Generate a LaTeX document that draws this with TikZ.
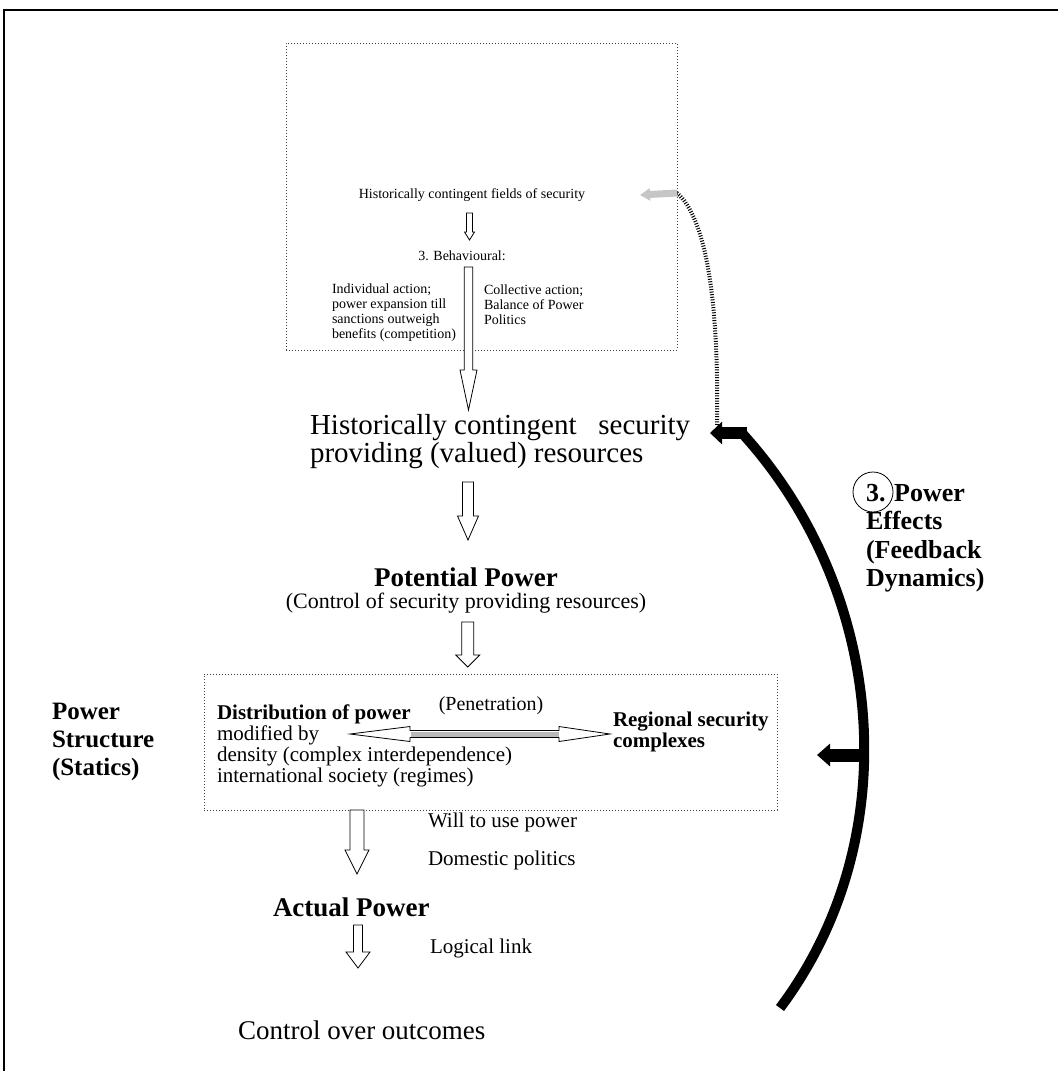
\documentclass[tikz,border=0pt]{standalone}
\usepackage{fontspec}
\setmainfont{Liberation Serif}
\usetikzlibrary{arrows.meta,calc}
\tikzset{
  every node/.style={inner sep=0pt, outer sep=0pt},
  fsmall/.style={font=\fontsize{14}{15}\selectfont},
  fmed/.style={font=\fontsize{21}{21}\selectfont},
  fbig/.style={font=\fontsize{29}{28}\selectfont},
  fhead/.style={font=\fontsize{27}{28}\selectfont\bfseries},
  fside/.style={font=\fontsize{25}{28}\selectfont\bfseries},
  dotbox/.style={draw=black!75, line width=0.7pt, dash pattern=on 0.7pt off 2.3pt},
  hollow/.style args={#1/#2/#3}{draw, line width=0.8pt, fill=white,
    to path={let \p1=(\tikztostart), \p2=(\tikztotarget) in
      (\x1-#1,\y1) -- (\x1-#1,\y2+#3) -- (\x1-#2,\y2+#3) -- (\x1,\y2) --
      (\x1+#2,\y2+#3) -- (\x1+#1,\y2+#3) -- (\x1+#1,\y1) -- cycle}},
  dblarrow/.style args={#1/#2/#3/#4}{draw, line width=0.8pt, fill=white,
    to path={let \p1=(\tikztostart), \p2=(\tikztotarget) in
      (\x1,\y1) -- (\x1+#3,\y1+#2) -- (\x1+#3,\y1+#1) -- (\x2-#4,\y1+#1) --
      (\x2-#4,\y1+#2) -- (\x2,\y1) -- (\x2-#4,\y1-#2) -- (\x2-#4,\y1-#1) --
      (\x1+#3,\y1-#1) -- (\x1+#3,\y1-#2) -- cycle}},
}
\begin{document}
\begin{tikzpicture}[x=1pt,y=-1pt]
\useasboundingbox (0,0) rectangle (1058,1071);
% frame
\draw[line width=2pt] (1058,10) -- (4,10) -- (4,1071);

% boxes
\node[dotbox, minimum width=391pt, minimum height=307pt] (topbox) at (481.5,196.5) {};
\node[dotbox, minimum width=573pt, minimum height=136pt] (pbox) at (490.5,742) {};

% texts
\node[fsmall] (fields) at (472,195) {Historically contingent fields of security};
\node[fsmall] (beh) at (462,256) {3. Behavioural:};
\node[fsmall, anchor=west, align=left] (indiv) at (332,312.5) {Individual action;\\power expansion till\\sanctions outweigh\\benefits (competition)};
\node[fsmall, anchor=west, align=left] (coll) at (484,305) {Collective action;\\Balance of Power\\Politics};
\node[fbig, anchor=west, align=left] (res) at (310,442) {Historically contingent\ \ \ security\\providing (valued) resources};
\node[fhead] (pot) at (466,577) {Potential Power};
\node[font=\fontsize{22}{24}\selectfont] (potsub) at (466,603) {(Control of security providing resources)};
\node[fside, anchor=west, align=left] (pstruct) at (52,742) {Power\\Structure\\(Statics)};
\node[fmed, anchor=west, align=left] (dist) at (217,746) {\textbf{Distribution of power}\\modified by\\density (complex interdependence)\\international society (regimes)};
\node[font=\fontsize{20}{22}\selectfont] (pen) at (491,706) {(Penetration)};
\node[font=\fontsize{21}{21}\selectfont\bfseries, anchor=west, align=left] (reg) at (613,732) {Regional security\\complexes};
\node[fmed, anchor=west] (will) at (428,822) {Will to use power};
\node[fmed, anchor=west] (dom) at (428,860) {Domestic politics};
\node[fhead, anchor=west] (act) at (273,907) {Actual Power};
\node[fmed, anchor=west] (logic) at (430,948) {Logical link};
\node[font=\fontsize{27}{30}\selectfont, anchor=west] (ctrl) at (238,1030) {Control over outcomes};
\node[font=\fontsize{26}{28.5}\selectfont\bfseries, anchor=west, align=left] (eff) at (866,538) {3. Power\\Effects\\(Feedback\\Dynamics)};
\node[draw, circle, line width=0.8pt, minimum size=40pt] (c3) at (873,492) {};

% hollow arrows
\coordinate (a1s) at (469.5,213); \coordinate (a1e) at (469.5,240);
\coordinate (a2s) at (468.5,267); \coordinate (a2e) at (468.5,410);
\coordinate (a3s) at (468,482);   \coordinate (a3e) at (468,540);
\coordinate (a4s) at (467.7,622); \coordinate (a4e) at (467.7,667);
\coordinate (a5s) at (357,810);   \coordinate (a5e) at (357,874);
\coordinate (a6s) at (358,925);   \coordinate (a6e) at (358,968);
\draw[hollow=3pt/5pt/8pt] (a1s) to (a1e);
\draw[hollow=4.3pt/8.5pt/40pt] (a2s) to (a2e);
\draw[hollow=5.5pt/10.5pt/24pt] (a3s) to (a3e);
\draw[hollow=6pt/12pt/12pt] (a4s) to (a4e);
\draw[hollow=7pt/12pt/24pt] (a5s) to (a5e);
\draw[hollow=4.5pt/12pt/16pt] (a6s) to (a6e);

% penetration double arrow
\coordinate (penL) at (350,734); \coordinate (penR) at (610,734);
\draw[dblarrow=3.5pt/7.5pt/60pt/51pt] (penL) to (penR);
\draw[gray!55, line width=5pt, shorten <=60.5pt, shorten >=51.5pt] (penL) -- (penR);

% feedback arc
\coordinate (arcB) at (780,1008);
\coordinate (arcT) at (741,432);
\draw[line width=10pt] (arcB) .. controls (909,836) and (885,589) .. (arcT);
\coordinate (stubA) at (747,433); \coordinate (stubAtip) at (710,433);
\draw[line width=12pt, -{Triangle[length=12pt,width=22pt]}] (stubA) -- (stubAtip);
\coordinate (stubB) at (863,755); \coordinate (stubBtip) at (817,755);
\draw[line width=13pt, -{Triangle[length=13pt,width=22pt]}] (stubB) -- (stubBtip);

% dotted feedback to fields of security
\coordinate (dotS) at (717,425); \coordinate (dotE) at (677,193);
\draw[line width=4pt, dash pattern=on 1pt off 1.6pt] (dotS) .. controls (719,300) and (706,218) .. (dotE);
\coordinate (gtip) at (640,195);
\draw[gray!45, line width=7pt, -{Triangle[length=10pt,width=12pt]}] (dotE) -- (gtip);
\end{tikzpicture}
\end{document}
